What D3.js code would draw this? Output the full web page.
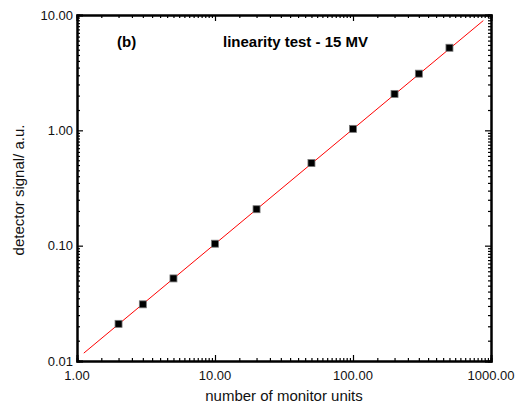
<!DOCTYPE html>
<html><head><meta charset="utf-8">
<script src="https://cdn.jsdelivr.net/npm/d3@7"></script>
<style>body{margin:0;background:#fff}svg{display:block}text{font-family:"Liberation Sans",Arial,sans-serif}</style>
</head><body>
<svg id="c" width="515" height="407"></svg>
<script>
const monitorUnits = [2, 3, 5, 10, 20, 50, 100, 200, 300, 500];
const signal = [0.021, 0.031, 0.052, 0.104, 0.207, 0.52, 1.03, 2.07, 3.1, 5.2];
const fitX = [1.12, 880];
const fitY = [0.0117, 8.95];
const xTicks = [1, 10, 100, 1000];
const xTickLabels = ["1.00", "10.00", "100.00", "1000.00"];
const yTicks = [0.01, 0.1, 1, 10];
const yTickLabels = ["0.01", "0.10", "1.00", "10.00"];
const minorMultipliers = [1.5,2,2.5,3,3.5,4,4.5,5,5.5,6,6.5,7,7.5,8,8.5,9,9.5];

const svg = d3.select("#c");
const L = 77, R = 491, T = 15, B = 361;
const x = d3.scaleLog().domain([1, 1000]).range([L, R]);
const y = d3.scaleLog().domain([0.01, 10]).range([B, T]);

function minors(dom){
  const out=[];
  for(let d=dom[0]; d<dom[1]; d*=10) minorMultipliers.forEach(m=>out.push(d*m));
  return out;
}
const xMin = minors([1,1000]), yMin = minors([0.01,10]);

const gB = svg.append("g").attr("transform",`translate(0,${B})`);
gB.call(d3.axisBottom(x).tickValues(xTicks).tickSize(-6).tickFormat(""));
gB.append("g").call(d3.axisBottom(x).tickValues(xMin).tickSize(-3).tickFormat(""));
const gT = svg.append("g").attr("transform",`translate(0,${T})`);
gT.call(d3.axisTop(x).tickValues(xTicks).tickSize(-6).tickFormat(""));
gT.append("g").call(d3.axisTop(x).tickValues(xMin).tickSize(-3).tickFormat(""));
const gL = svg.append("g").attr("transform",`translate(${L},0)`);
gL.call(d3.axisLeft(y).tickValues(yTicks).tickSize(-6).tickFormat(""));
gL.append("g").call(d3.axisLeft(y).tickValues(yMin).tickSize(-3).tickFormat(""));
const gR = svg.append("g").attr("transform",`translate(${R},0)`);
gR.call(d3.axisRight(y).tickValues(yTicks).tickSize(-6).tickFormat(""));
gR.append("g").call(d3.axisRight(y).tickValues(yMin).tickSize(-3).tickFormat(""));

svg.selectAll(".domain").attr("stroke","#000").attr("stroke-width",2);
svg.selectAll(".tick line").attr("stroke","#000").attr("stroke-width",1.2);

svg.append("g").selectAll("text").data(xTicks).join("text")
  .attr("x",d=>x(d)).attr("y",B+19).attr("text-anchor","middle")
  .attr("font-size",13).attr("fill","#111").text((d,i)=>xTickLabels[i]);
svg.append("g").selectAll("text").data(yTicks).join("text")
  .attr("x",L-4).attr("y",d=>y(d)+4.5).attr("text-anchor","end")
  .attr("font-size",13).attr("fill","#111").text((d,i)=>yTickLabels[i]);

svg.append("text").attr("x",284).attr("y",401).attr("text-anchor","middle")
  .attr("font-size",15).attr("fill","#111").text("number of monitor units");
svg.append("text").attr("transform","translate(24,190) rotate(-90)").attr("text-anchor","middle")
  .attr("font-size",15).attr("fill","#111").text("detector signal/ a.u.");

svg.append("text").attr("x",117).attr("y",47).attr("font-size",15).attr("font-weight","bold").text("(b)");
svg.append("text").attr("x",223).attr("y",47).attr("font-size",15).attr("font-weight","bold").text("linearity test - 15 MV");

svg.append("path").datum(fitX.map((v,i)=>[v,fitY[i]]))
  .attr("d",d3.line().x(d=>x(d[0])).y(d=>y(d[1])))
  .attr("stroke","#ff0000").attr("stroke-width",1).attr("fill","none");

svg.append("g").selectAll("rect").data(monitorUnits).join("rect")
  .attr("x",d=>x(d)-3.5).attr("y",(d,i)=>y(signal[i])-3.5)
  .attr("width",7).attr("height",7).attr("fill","#000").attr("stroke","#777").attr("stroke-width",0.8);
</script>
</body></html>
